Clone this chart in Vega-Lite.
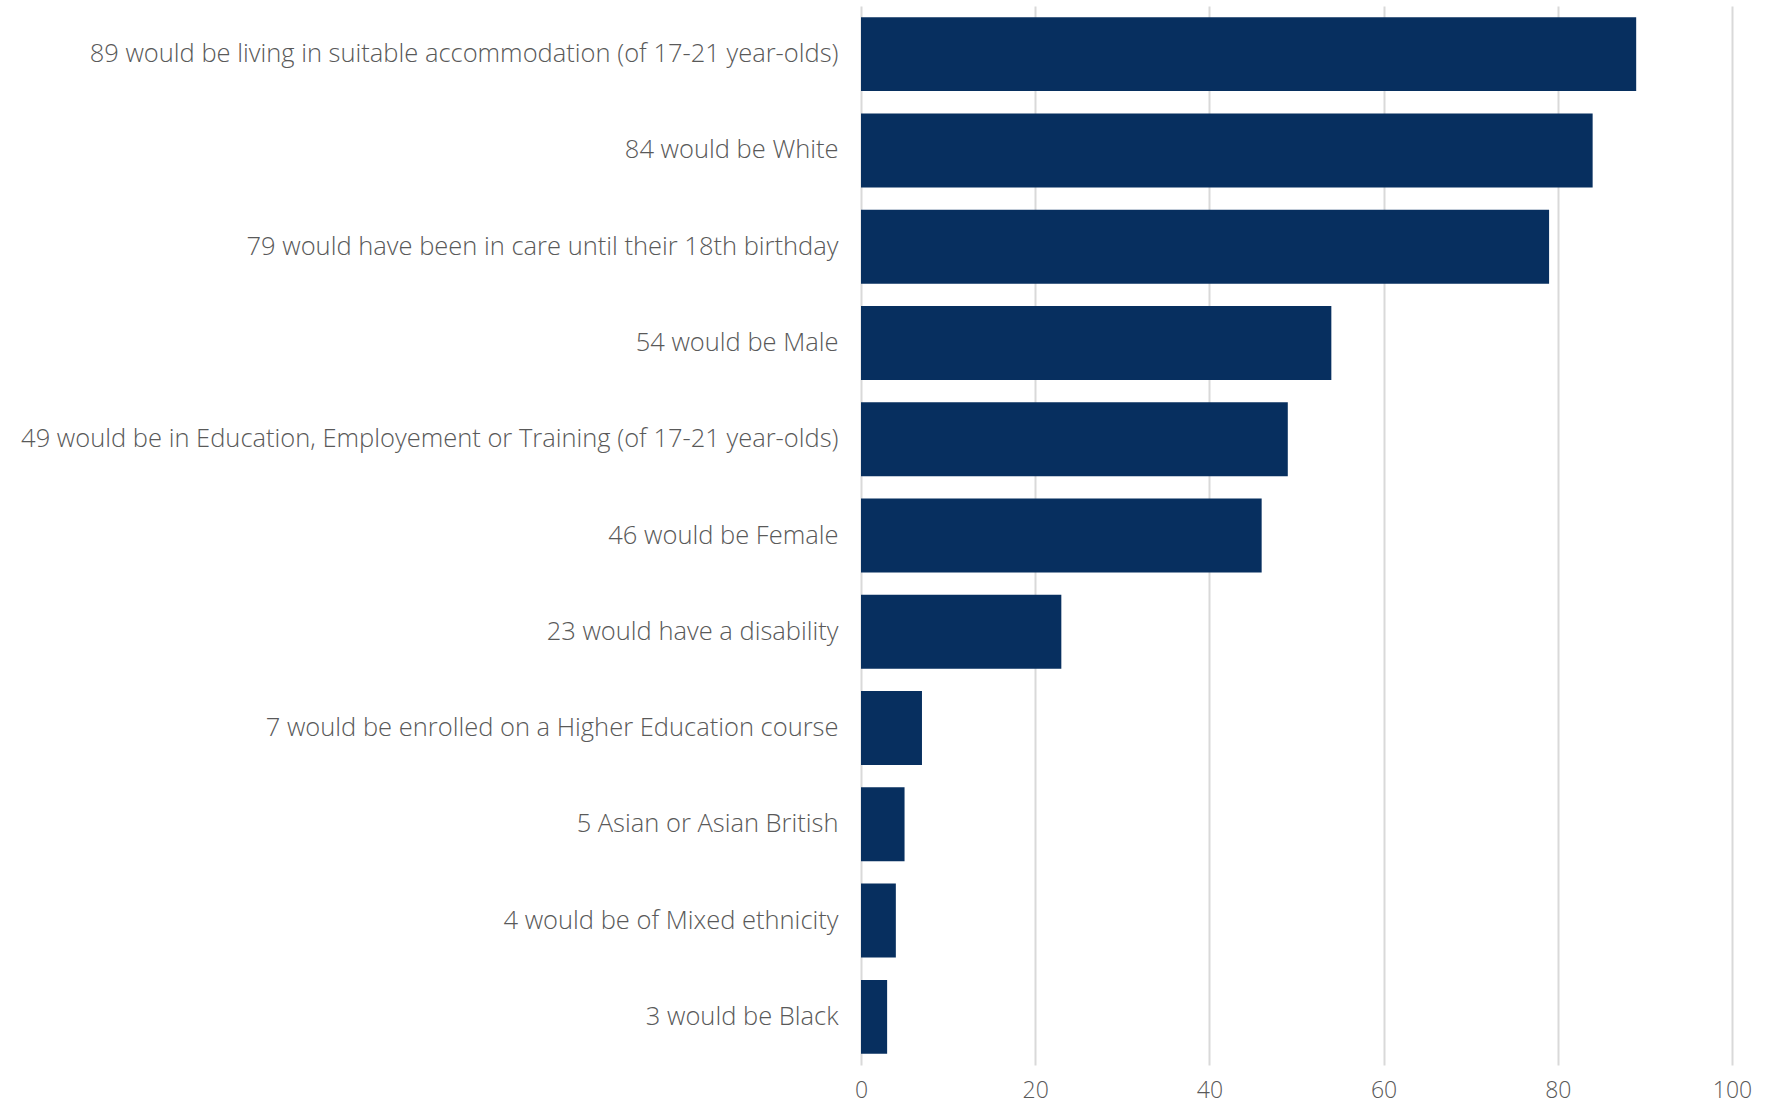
{
  "$schema": "https://vega.github.io/schema/vega-lite/v6.json",
  "autosize": {"type": "none"},
  "width": 871,
  "height": 1059,
  "padding": {"left": 861, "top": 6, "right": 34, "bottom": 43},
  "background": "white",
  "data": {"values": [
    {"label": "89 would be living in suitable accommodation (of 17-21 year-olds)", "value": 89},
    {"label": "84 would be White", "value": 84},
    {"label": "79 would have been in care until their 18th birthday", "value": 79},
    {"label": "54 would be Male", "value": 54},
    {"label": "49 would be in Education, Employement or Training (of 17-21 year-olds)", "value": 49},
    {"label": "46 would be Female", "value": 46},
    {"label": "23 would have a disability", "value": 23},
    {"label": "7 would be enrolled on a Higher Education course", "value": 7},
    {"label": "5 Asian or Asian British", "value": 5},
    {"label": "4 would be of Mixed ethnicity", "value": 4},
    {"label": "3 would be Black", "value": 3}
  ]},
  "mark": {"type": "bar", "color": "#072F5F"},
  "encoding": {
    "y": {"field": "label", "type": "nominal", "sort": null, "title": null,
      "scale": {"paddingInner": 0.232, "paddingOuter": 0.116},
      "axis": {"domain": false, "ticks": false, "labelPadding": 23, "labelFontSize": 25.5, "labelFont": "Open Sans", "labelFontWeight": 300, "labelColor": "#595959", "labelLimit": 900}},
    "x": {"field": "value", "type": "quantitative", "title": null,
      "scale": {"domain": [0, 100]},
      "axis": {"values": [0, 20, 40, 60, 80, 100], "domain": false, "ticks": false, "grid": true, "gridColor": "#d9d9d9", "gridWidth": 2, "labelPadding": 14, "labelFontSize": 23, "labelFont": "Open Sans", "labelFontWeight": 300, "labelColor": "#595959", "labelFlush": false}}
  },
  "config": {"view": {"stroke": null}}
}
